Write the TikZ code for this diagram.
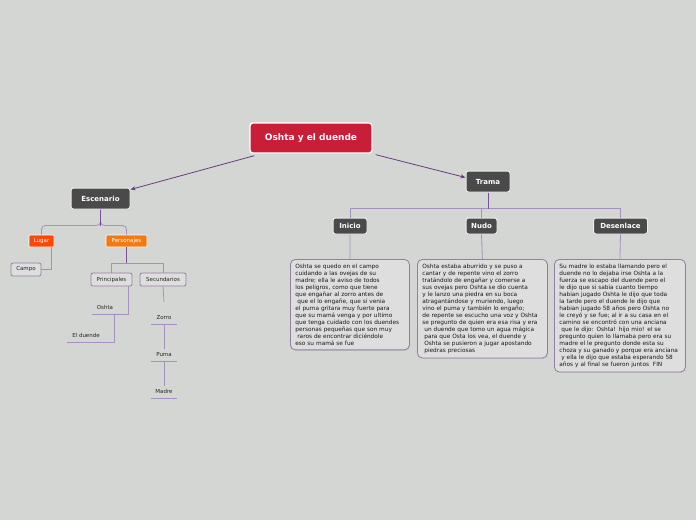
\documentclass[tikz,border=0pt]{standalone}
\usepackage{fontspec}
\setmainfont{DejaVu Sans}
\usetikzlibrary{shadows,arrows.meta}
\definecolor{bgcol}{RGB}{212,214,211}
\definecolor{rootred}{RGB}{200,30,56}
\definecolor{darkbox}{RGB}{74,74,74}
\definecolor{lugarcol}{RGB}{252,72,6}
\definecolor{perscol}{RGB}{240,122,22}
\definecolor{lightbox}{RGB}{222,222,222}
\definecolor{boxline}{RGB}{145,128,162}
\definecolor{linkcol}{RGB}{165,145,192}
\definecolor{trunkcol}{RGB}{120,80,155}
\definecolor{arrowcol}{RGB}{105,60,130}
\begin{document}
\begin{tikzpicture}[x=1pt, y=-1pt,
  rootbox/.style={fill=rootred, draw=white, line width=1.3pt, rounded corners=3pt,
    text=white, font=\fontsize{9}{10}\selectfont\bfseries,
    minimum width=122pt, minimum height=30pt},
  topic/.style={fill=darkbox, draw=white!85!gray, line width=1pt, rounded corners=2.5pt,
    text=white, font=\fontsize{7}{8}\selectfont\bfseries, inner sep=0pt,
    drop shadow={opacity=0.25, shadow xshift=0.6pt, shadow yshift=-0.8pt}},
  tag/.style={draw=white, line width=0.6pt, rounded corners=1pt, text=white,
    font=\fontsize{5.5}{6}\selectfont, inner sep=0pt, minimum height=12pt},
  sub/.style={fill=lightbox, draw=boxline, line width=0.8pt, rounded corners=2pt,
    text=black!85, font=\fontsize{5.5}{6}\selectfont, inner sep=0pt, minimum height=13pt},
  leaf/.style={text=black!85, font=\fontsize{5.5}{6}\selectfont, inner sep=0pt,
    text height=4pt, text depth=1pt, minimum height=12pt},
  story/.style={fill=lightbox, draw=boxline, line width=0.8pt, rounded corners=5pt,
    anchor=north west, align=left, text=black!90, inner xsep=5pt, inner ysep=4.5pt,
    font=\fontsize{5.8}{7}\selectfont,
    drop shadow={opacity=0.2, shadow xshift=0.6pt, shadow yshift=-0.8pt}},
  link/.style={draw=linkcol, line width=0.8pt},
  trunk/.style={draw=trunkcol, line width=0.9pt},
  arrow/.style={draw=arrowcol, line width=0.8pt, -{Stealth[length=5pt, width=4pt]}}]

  % Background
  \useasboundingbox (0,0) rectangle (696,520);
  \fill[bgcol] (0,0) rectangle (696,520);

  % Main topics
  \node[rootbox] (root) at (311,138) {Oshta y el duende};
  \node[topic, minimum width=59pt, minimum height=21pt] (escenario) at (100.5,198.5) {Escenario};
  \node[topic, minimum width=44pt, minimum height=21pt] (trama) at (488,181.5) {Trama};

  % Trama subtopics
  \node[topic, minimum width=34pt, minimum height=16pt] (inicio) at (350,226) {Inicio};
  \node[topic, minimum width=31pt, minimum height=16pt] (nudo) at (481.5,226) {Nudo};
  \node[topic, minimum width=54pt, minimum height=16pt] (desenlace) at (620.5,226) {Desenlace};

  % Escenario subtopics
  \node[tag, fill=lugarcol, minimum width=25pt] (lugar) at (41.5,241) {Lugar};
  \node[tag, fill=perscol, minimum width=41pt] (personajes) at (126.5,241) {Personajes};
  \node[sub, minimum width=30pt] (campo) at (26,269.5) {Campo};
  \node[sub, minimum width=41pt] (principales) at (111.5,279.5) {Principales};
  \node[sub, minimum width=46pt] (secundarios) at (163,279.5) {Secundarios};

  % Characters
  \node[leaf, minimum width=26pt] (oshta) at (105,308) {Oshta};
  \node[leaf, minimum width=38pt] (duende) at (86,336) {El duende};
  \foreach \name/\txt/\y in {zorro/Zorro/318, puma/Puma/355, madre/Madre/392}
    \node[leaf, minimum width=26pt] (\name) at (164,\y) {\txt};

  % Story texts
  \node[story, text width=109pt] (iniciotxt) at (290,259) {%
    Oshta se quedo en el campo\\
    cuidando a las ovejas de su\\
    madre; ella le aviso de todos\\
    los peligros, como que tiene\\
    que engañar al zorro antes de\\
    \ que el lo engañe, que si venia\\
    el puma gritara muy fuerte para\\
    que su mamá venga y por ultimo\\
    que tenga cuidado con los duendes\\
    personas pequeñas que son muy\\
    \ raros de encontrar diciéndole\\
    eso su mamá se fue};
  \node[story, text width=120pt] (nudotxt) at (417,259) {%
    Oshta estaba aburrido y se puso a\\
    cantar y de repente vino el zorro\\
    tratándolo de engañar y comerse a\\
    sus ovejas pero Oshta se dio cuenta\\
    y le lanzo una piedra en su boca\\
    atragantándose y muriendo, luego\\
    vino el puma y también lo engaño;\\
    de repente se escucho una voz y Oshta\\
    se pregunto de quien era esa risa y era\\
    \ un duende que tomo un agua mágica\\
    \ para que Osta los vea, el duende y\\
    \ Oshta se pusieron a jugar apostando\\
    \ piedras preciosas};
  \node[story, text width=121pt] (desenlacetxt) at (554,259) {%
    Su madre lo estaba llamando pero el\\
    duende no lo dejaba irse Oshta a la\\
    fuerza se escapo del duende pero el\\
    le dijo que si sabia cuanto tiempo\\
    habian jugado Oshta le dijo que toda\\
    la tarde pero el duende le dijo que\\
    habian jugado 58 años pero Oshta no\\
    le creyó y se fue; al ir a su casa en el\\
    camino se encontró con una anciana\\
    \ que le dijo: Oshta! hijo mio! el se\\
    pregunto quien lo llamaba pero era su\\
    madre el le pregunto donde esta su\\
    choza y su ganado y porque era anciana\\
    \ y ella le dijo que estaba esperando 58\\
    años y al final se fueron juntos \ FIN};

  % Arrows from the root
  \draw[arrow] ([xshift=5pt,yshift=-2pt]root.south west) -- ([yshift=-2pt]escenario.north east);
  \draw[arrow] ([xshift=3pt,yshift=-1pt]root.south east) -- ([yshift=4pt]trama.west);

  % Trama branches
  \draw[link] (trama.south) -- ++(0,16) -| (inicio.north);
  \draw[link] (trama.south) -- ++(0,16) -| (desenlace.north);
  \draw[link] (trama.south) -- ++(0,16) -| (nudo.north);
  \draw[trunk] (trama.south) -- ++(0,16);
  \draw[link] (inicio.south) -- (iniciotxt.north);
  \draw[link] (nudo.south) -- (nudotxt.north);
  \draw[link] (desenlace.south) -- (desenlacetxt.north);

  % Escenario branches
  \draw[link, rounded corners=4pt] (escenario.south) -- ++(0,16) -| (lugar.north);
  \draw[link, rounded corners=4pt] (escenario.south) -- ++(0,16) -| (personajes.north);
  \draw[trunk] (escenario.south) -- ++(0,16);
  \draw[link] ([xshift=-3pt]lugar.south east) |- (campo.east);
  \draw[link] (personajes.south) -- ++(0,16) -| (principales.north);
  \draw[link] (personajes.south) -- ++(0,16) -| (secundarios.north);
  \draw[trunk] (personajes.south) -- ++(0,16);

  % Character lines
  \draw[link] ([xshift=-4pt]principales.south east) |- (oshta.south west);
  \draw[link] ([xshift=-4pt]oshta.south east) |- (duende.south west);
  \draw[link] (secundarios.south) -- ([yshift=10pt]zorro.north);
  \foreach \name in {zorro,puma,madre}
    \draw[link] (\name.south west) -- (\name.south east);
  \draw[link] (zorro.south) -- (puma.north);
  \draw[link] (puma.south) -- (madre.north);
\end{tikzpicture}
\end{document}
